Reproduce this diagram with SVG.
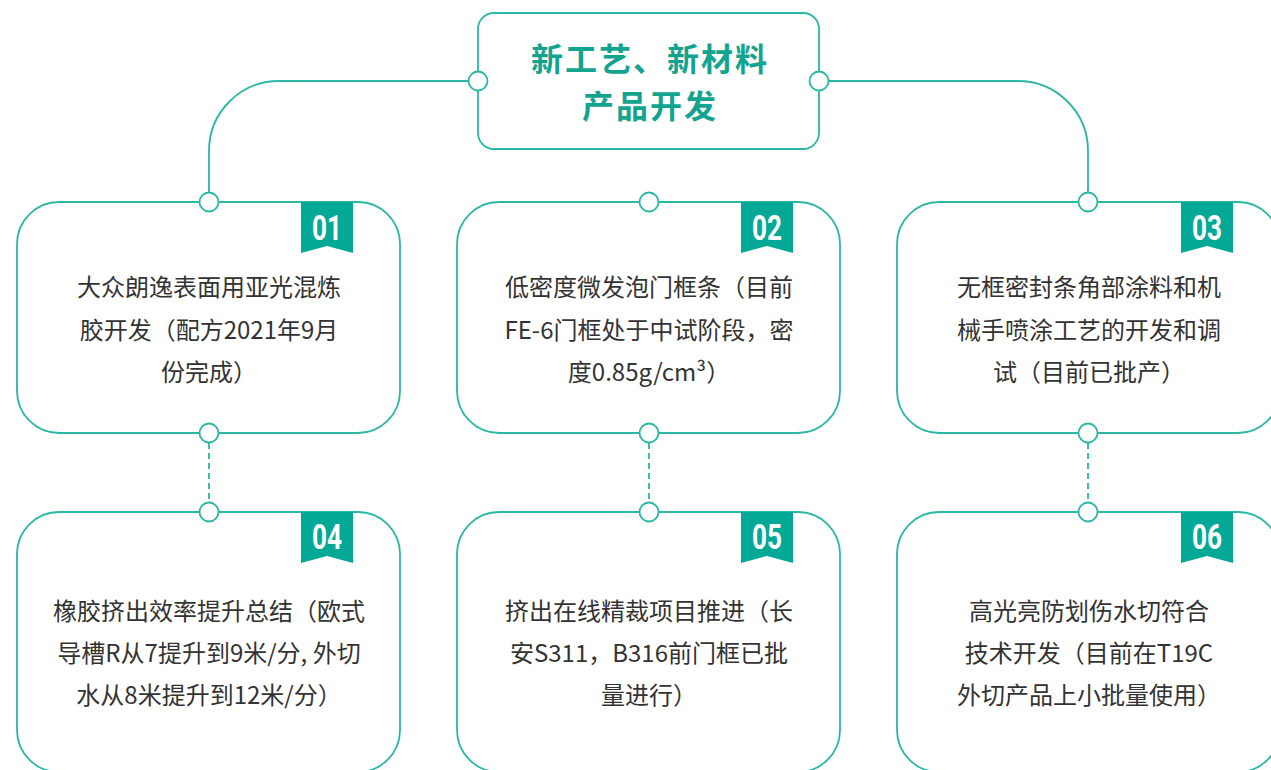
<svg xmlns="http://www.w3.org/2000/svg" width="1271" height="770" viewBox="0 0 1271 770">
  <style>
    .box { fill: #ffffff; stroke: #2ab7a3; stroke-width: 1.8; }
    .line { fill: none; stroke: #2ab7a3; stroke-width: 1.8; }
    .dash { fill: none; stroke: #2ab7a3; stroke-width: 1.8; stroke-dasharray: 6 4; }
    .dot { fill: #ffffff; stroke: #2ab7a3; stroke-width: 1.8; }
    .badge { fill: #03a996; }
    .num { fill: #ffffff; font-family: Roboto, "Liberation Sans", sans-serif; font-weight: bold; font-size: 35px; text-anchor: middle; }
    .title { fill: #13a48f; font-family: "Noto Sans CJK SC", sans-serif; font-weight: bold; font-size: 32px; letter-spacing: 2px; text-anchor: middle; }
    .txt { fill: #333333; font-family: "Noto Sans CJK SC", sans-serif; font-size: 24px; text-anchor: middle; }
  </style>
  <rect width="1271" height="770" fill="#ffffff"/>

  <g id="connectors">
    <path class="line" d="M 478 81 L 279 81 A 70 70 0 0 0 209 151 L 209 202"/>
    <path class="line" d="M 819 81 L 1018 81 A 70 70 0 0 1 1088 151 L 1088 202"/>
    <path class="dash" d="M 209 443 L 209 502"/>
    <path class="dash" d="M 649 443 L 649 502"/>
    <path class="dash" d="M 1088 443 L 1088 502"/>
  </g>

  <g id="root">
    <rect class="box" x="478" y="13" width="341" height="136" rx="16"/>
    <text class="title" x="650" y="71">新工艺、新材料</text>
    <text class="title" x="650" y="118">产品开发</text>
    <circle class="dot" cx="478" cy="81" r="9.5"/>
    <circle class="dot" cx="819" cy="81" r="9.5"/>
  </g>

  <g id="node01">
    <rect class="box" x="17" y="202" width="383" height="231" rx="42"/>
    <polygon class="badge" points="301,202 353,202 353,253 327,246 301,253"/>
    <text class="num" x="327" y="240" textLength="30" lengthAdjust="spacingAndGlyphs">01</text>
    <text class="txt" x="209" y="296">大众朗逸表面用亚光混炼</text>
    <text class="txt" x="209" y="339">胶开发（配方2021年9月</text>
    <text class="txt" x="209" y="381">份完成）</text>
    <circle class="dot" cx="209" cy="202" r="9.5"/>
    <circle class="dot" cx="209" cy="433" r="9.5"/>
  </g>

  <g id="node02">
    <rect class="box" x="457" y="202" width="383" height="231" rx="42"/>
    <polygon class="badge" points="741,202 793,202 793,253 767,246 741,253"/>
    <text class="num" x="767" y="240" textLength="30" lengthAdjust="spacingAndGlyphs">02</text>
    <text class="txt" x="649" y="296">低密度微发泡门框条（目前</text>
    <text class="txt" x="649" y="339">FE-6门框处于中试阶段，密</text>
    <text class="txt" x="649" y="381">度0.85g/cm³）</text>
    <circle class="dot" cx="649" cy="202" r="9.5"/>
    <circle class="dot" cx="649" cy="433" r="9.5"/>
  </g>

  <g id="node03">
    <rect class="box" x="897" y="202" width="383" height="231" rx="42"/>
    <polygon class="badge" points="1181,202 1233,202 1233,253 1207,246 1181,253"/>
    <text class="num" x="1207" y="240" textLength="30" lengthAdjust="spacingAndGlyphs">03</text>
    <text class="txt" x="1089" y="296">无框密封条角部涂料和机</text>
    <text class="txt" x="1089" y="339">械手喷涂工艺的开发和调</text>
    <text class="txt" x="1089" y="381">试（目前已批产）</text>
    <circle class="dot" cx="1088" cy="202" r="9.5"/>
    <circle class="dot" cx="1088" cy="433" r="9.5"/>
  </g>

  <g id="node04">
    <rect class="box" x="17" y="512" width="383" height="260" rx="42"/>
    <polygon class="badge" points="301,512 353,512 353,563 327,556 301,563"/>
    <text class="num" x="327" y="549" textLength="30" lengthAdjust="spacingAndGlyphs">04</text>
    <text class="txt" x="209" y="620">橡胶挤出效率提升总结（欧式</text>
    <text class="txt" x="209" y="662">导槽R从7提升到9米/分, 外切</text>
    <text class="txt" x="209" y="704">水从8米提升到12米/分）</text>
    <circle class="dot" cx="209" cy="512" r="9.5"/>
  </g>

  <g id="node05">
    <rect class="box" x="457" y="512" width="383" height="260" rx="42"/>
    <polygon class="badge" points="741,512 793,512 793,563 767,556 741,563"/>
    <text class="num" x="767" y="549" textLength="30" lengthAdjust="spacingAndGlyphs">05</text>
    <text class="txt" x="649" y="620">挤出在线精裁项目推进（长</text>
    <text class="txt" x="649" y="662">安S311，B316前门框已批</text>
    <text class="txt" x="649" y="704">量进行）</text>
    <circle class="dot" cx="649" cy="512" r="9.5"/>
  </g>

  <g id="node06">
    <rect class="box" x="897" y="512" width="383" height="260" rx="42"/>
    <polygon class="badge" points="1181,512 1233,512 1233,563 1207,556 1181,563"/>
    <text class="num" x="1207" y="549" textLength="30" lengthAdjust="spacingAndGlyphs">06</text>
    <text class="txt" x="1089" y="620">高光亮防划伤水切符合</text>
    <text class="txt" x="1089" y="662">技术开发（目前在T19C</text>
    <text class="txt" x="1089" y="704">外切产品上小批量使用）</text>
    <circle class="dot" cx="1088" cy="512" r="9.5"/>
  </g>
</svg>
